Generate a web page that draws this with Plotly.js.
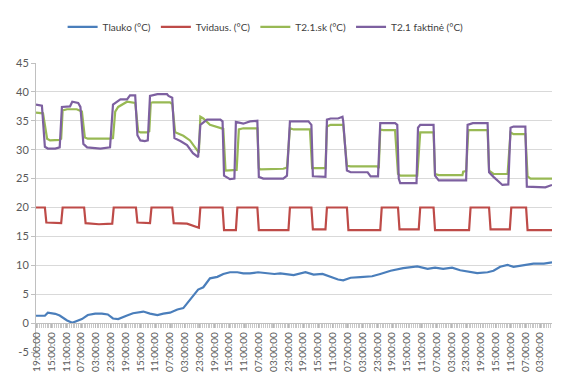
<!DOCTYPE html>
<html>
<head>
<meta charset="utf-8">
<script src="https://cdn.plot.ly/plotly-3.0.1.min.js"></script>
<style>html,body{margin:0;padding:0;background:#fff;}#chart{width:569px;height:387px;}</style>
</head>
<body>
<div id="chart"></div>
<script>
// Elapsed hours since the first sample (x) and temperatures in °C (y)
const seriesNames = ["Tlauko (°C)", "Tvidaus. (°C)", "T2.1.sk (°C)", "T2.1 faktinė (°C)"];

const tlaukoHours = [0, 12, 16, 26, 32, 42, 49, 55, 62, 70, 80, 89, 97, 104, 111, 123, 131, 145, 154, 164, 172, 181, 191, 199, 206, 212, 219, 226, 235, 245, 253, 262, 272, 280, 289, 300, 312, 322, 330, 348, 364, 375, 387, 398, 408, 415, 425, 438, 454, 465, 479, 496, 515, 529, 539, 550, 562, 573, 587, 596, 610, 618, 627, 637, 645, 658, 672, 686, 697];
const tlauko      = [1.27, 1.27, 1.8, 1.6, 1.3, 0.45, 0.05, 0.3, 0.7, 1.4, 1.65, 1.65, 1.5, 0.8, 0.7, 1.3, 1.7, 2.0, 1.65, 1.4, 1.65, 1.8, 2.35, 2.6, 3.75, 4.85, 5.8, 6.2, 7.75, 8.0, 8.5, 8.8, 8.8, 8.6, 8.6, 8.8, 8.65, 8.5, 8.6, 8.3, 8.8, 8.4, 8.5, 7.95, 7.55, 7.4, 7.85, 7.95, 8.1, 8.5, 9.05, 9.5, 9.8, 9.4, 9.6, 9.4, 9.6, 9.15, 8.8, 8.65, 8.8, 9.05, 9.75, 10.05, 9.75, 10.05, 10.3, 10.3, 10.5];

const tvidausHours = [0, 12, 14, 34, 36, 65, 67, 85, 103, 105, 135, 137, 154, 156, 184, 186, 204, 218, 220, 222, 252, 254, 270, 272, 299, 301, 341, 343, 372, 374, 391, 393, 420, 422, 465, 467, 489, 491, 517, 519, 537, 539, 585, 587, 612, 614, 640, 642, 662, 664, 697];
const tvidaus      = [20, 20, 17.4, 17.3, 20, 20, 17.3, 17.1, 17.2, 20, 20, 17.4, 17.3, 20, 20, 17.3, 17.2, 16.6, 16.5, 20, 20, 16.1, 16.1, 20, 20, 16.1, 16.1, 20, 20, 16.2, 16.2, 20, 20, 16.1, 16.1, 20, 20, 16.2, 16.2, 20, 20, 16.1, 16.1, 20, 20, 16.2, 16.2, 20, 20, 16.1, 16.1];

const t21skHours = [0, 9.5, 15, 19, 32, 34, 36, 42, 55, 62, 66, 70, 100, 104, 107, 111, 123, 134, 138, 141, 150, 153, 155, 158, 181, 184, 188, 199, 208, 218, 220, 222, 226, 235, 249, 253, 256, 269, 271, 274, 280, 299, 301, 303, 334, 339, 343, 348, 370, 373, 391, 393, 398, 415, 420, 425, 461, 463, 465, 469, 485, 489, 492, 515, 519, 537, 539, 544, 576, 577, 581, 584, 590, 610, 612, 618, 637, 641, 645, 661, 664, 668, 697];
const t21sk      = [36.4, 36.3, 31.9, 31.6, 31.7, 31.9, 36.8, 37.0, 37.0, 36.6, 32.1, 31.9, 31.9, 32.0, 36.6, 37.4, 38.3, 38.1, 33.2, 33.0, 33.0, 33.2, 38.1, 38.2, 38.2, 37.9, 33.0, 32.4, 31.6, 29.7, 29.5, 35.7, 35.4, 34.3, 33.8, 33.6, 26.4, 26.4, 26.5, 33.5, 33.7, 33.7, 26.8, 26.6, 26.7, 26.9, 33.7, 33.5, 33.5, 26.8, 26.8, 34.0, 34.3, 34.3, 27.2, 27.1, 27.1, 26.8, 33.5, 33.4, 33.4, 25.8, 25.5, 25.5, 33.0, 33.0, 25.8, 25.6, 25.6, 26.2, 26.3, 33.4, 33.4, 33.4, 26.4, 25.8, 25.8, 33.0, 32.7, 32.7, 25.4, 25.0, 25.0];

const t21faktHours = [0, 8, 12, 16, 26, 32, 35, 46, 49, 57, 60, 64, 69, 87, 100, 104, 114, 123, 127, 134, 137, 141, 147, 151, 154, 164, 177, 179, 184, 187, 195, 204, 212, 219, 222, 231, 249, 252, 254, 262, 268, 270, 280, 289, 299, 301, 307, 334, 339, 343, 368, 372, 374, 387, 391, 393, 398, 408, 414, 415, 420, 425, 448, 452, 462, 465, 485, 488, 490, 492, 508, 514, 516, 519, 537, 539, 544, 576, 581, 583, 590, 610, 612, 618, 630, 638, 641, 645, 661, 663, 668, 688, 697];
const t21fakt      = [37.8, 37.6, 30.5, 30.2, 30.2, 30.4, 37.4, 37.5, 38.3, 38.1, 37.4, 31.0, 30.4, 30.2, 30.4, 37.8, 38.7, 38.7, 39.4, 39.4, 32.5, 31.6, 31.5, 31.6, 39.3, 39.6, 39.6, 39.3, 39.0, 32.0, 31.5, 30.8, 29.4, 28.7, 34.3, 35.2, 35.2, 34.9, 25.5, 24.9, 25.0, 34.8, 34.5, 34.9, 35.0, 25.3, 25.0, 25.0, 25.5, 34.9, 34.9, 34.3, 25.4, 25.3, 25.3, 35.2, 35.4, 35.4, 35.7, 34.9, 26.4, 26.1, 26.1, 25.4, 25.4, 34.6, 34.6, 34.3, 25.0, 24.2, 24.2, 24.2, 33.8, 34.3, 34.3, 25.5, 24.7, 24.7, 24.7, 34.3, 34.6, 34.6, 26.1, 25.3, 23.9, 24.0, 33.8, 34.0, 34.0, 23.6, 23.6, 23.5, 23.9];

// Category tick labels (one every 20 hours, starting at 19:00:00)
const xTickLabels = ["19:00:00","15:00:00","11:00:00","07:00:00","03:00:00","23:00:00",
  "19:00:00","15:00:00","11:00:00","07:00:00","03:00:00","23:00:00",
  "19:00:00","15:00:00","11:00:00","07:00:00","03:00:00","23:00:00",
  "19:00:00","15:00:00","11:00:00","07:00:00","03:00:00","23:00:00",
  "19:00:00","15:00:00","11:00:00","07:00:00","03:00:00","23:00:00",
  "19:00:00","15:00:00","11:00:00","07:00:00","03:00:00"];
const labelStepHours = 20;
const firstLabelHour = 1;
const yTickVals = [-5, 0, 5, 10, 15, 20, 25, 30, 35, 40, 45];
const yTickText = ["-5", "0", "5", "10", "15", "20", "25", "30", "35", "40", "45"];

const colors = ["#4a7ebb", "#be4b48", "#98b954", "#7d60a0"];
const xs = [tlaukoHours, tvidausHours, t21skHours, t21faktHours];
const ys = [tlauko, tvidaus, t21sk, t21fakt];

const traces = seriesNames.map((n, i) => ({
  type: "scatter", mode: "lines", name: n,
  x: xs[i], y: ys[i],
  line: {color: colors[i], width: 2.2}
}));

const tickvals = xTickLabels.map((_, k) => firstLabelHour + k * labelStepHours);

const layout = {
  width: 569, height: 387,
  margin: {l: 36, r: 17, t: 48, b: 35},
  paper_bgcolor: "#fff", plot_bgcolor: "#fff",
  font: {family: "Lato, 'Open Sans', sans-serif", size: 10, color: "#595959"},
  showlegend: true,
  legend: {orientation: "h", x: 0.445, xanchor: "center", y: 1.125, yanchor: "middle",
           font: {size: 10, color: "#404040"}, traceorder: "normal", itemwidth: 30},
  xaxis: {
    range: [0, 697], anchor: "free", position: 0.1,
    showgrid: false, zeroline: false, showline: true, linecolor: "#c0c0c0", linewidth: 1,
    tickmode: "array", tickvals: tickvals, ticktext: xTickLabels, tickangle: -90,
    ticks: "outside", ticklen: 4, tickcolor: "#b8b8b8",
    tickfont: {size: 10, color: "#595959"},
    minor: {tickmode: "linear", tick0: 0, dtick: 2.5, ticks: "outside", ticklen: 4, tickcolor: "#c8c8c8", tickwidth: 1, showgrid: false}
  },
  yaxis: {
    range: [-5, 45], domain: [0, 1],
    tickmode: "array", tickvals: yTickVals, ticktext: yTickText,
    showgrid: true, gridcolor: "#d9d9d9", gridwidth: 1, zeroline: false,
    showline: true, linecolor: "#c0c0c0", ticks: "outside", ticklen: 4, tickcolor: "#c0c0c0",
    tickfont: {size: 11, color: "#595959"}
  }
};

Plotly.newPlot("chart", traces, layout, {displayModeBar: false, staticPlot: true});
</script>
</body>
</html>
